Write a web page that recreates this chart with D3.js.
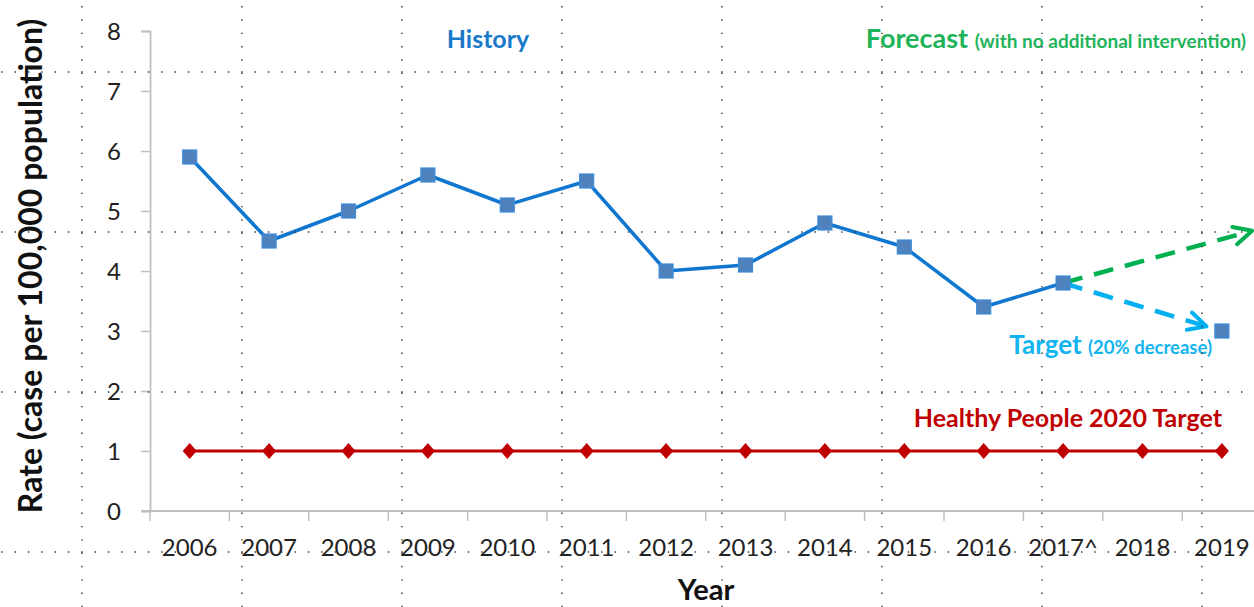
<!DOCTYPE html>
<html>
<head>
<meta charset="utf-8">
<script src="https://cdn.jsdelivr.net/npm/d3@7"></script>
<style>
  html, body { margin: 0; padding: 0; background: #fff; }
  svg { display: block; font-family: Lato, "Open Sans", sans-serif; }
</style>
</head>
<body>
<svg id="chart" width="1254" height="607"></svg>
<script>
// ---- data ----
const years = ["2006","2007","2008","2009","2010","2011","2012","2013","2014","2015","2016","2017^","2018","2019"];
const historyValues = [5.9, 4.5, 5.0, 5.6, 5.1, 5.5, 4.0, 4.1, 4.8, 4.4, 3.4, 3.8];
const hp2020Values = [1,1,1,1,1,1,1,1,1,1,1,1,1,1];
const targetPoint = { index: 13, value: 3.0 };
const forecastEnd = { index: 13.38, value: 4.67 };
const yTicks = [0,1,2,3,4,5,6,7,8];

// ---- layout ----
const svg = d3.select("#chart");
const W = 1254, H = 607;
const plotLeft = 150, step = 79.4, yBottom = 511, yTop = 31;

const x = d3.scaleLinear().domain([-0.5, years.length - 0.5]).range([plotLeft, plotLeft + step * years.length]);
const y = d3.scaleLinear().domain([0, 8]).range([yBottom, yTop]);

const axisColor = "#bfbfbf";

// y axis
const yAxis = svg.append("g").attr("transform", `translate(${plotLeft},0)`)
  .call(d3.axisLeft(y).tickValues(yTicks).tickSize(9).tickPadding(20).tickFormat(d3.format("d")));
yAxis.select(".domain").attr("stroke", axisColor).attr("stroke-width", 1.8);
yAxis.selectAll(".tick line").attr("stroke", axisColor).attr("stroke-width", 1.5);
yAxis.selectAll(".tick text").attr("font-size", 24).attr("fill", "#222").attr("font-family", "Lato, sans-serif").attr("dy", "0.36em");

// x axis: ticks at band boundaries, labels centered
const xAxisG = svg.append("g").attr("transform", `translate(0,${yBottom})`);
xAxisG.append("line").attr("x1", plotLeft - 9).attr("x2", W).attr("y1", 0).attr("y2", 0)
  .attr("stroke", axisColor).attr("stroke-width", 1.8);
xAxisG.selectAll("line.tk").data(d3.range(years.length + 1)).join("line").attr("class", "tk")
  .attr("x1", i => x(i - 0.5)).attr("x2", i => x(i - 0.5)).attr("y1", 0).attr("y2", 10)
  .attr("stroke", axisColor).attr("stroke-width", 1.5);
xAxisG.selectAll("text").data(years).join("text")
  .attr("x", (d, i) => x(i)).attr("y", 45).attr("text-anchor", "middle")
  .attr("font-size", 24).attr("fill", "#222").text(d => d);

// axis titles
svg.append("text").attr("transform", `translate(42,266) rotate(-90)`)
  .attr("text-anchor", "middle").attr("font-size", 32).attr("font-weight", "bold").attr("fill", "#111")
  .text("Rate (case  per 100,000 population)");
svg.append("text").attr("x", 706).attr("y", 600).attr("text-anchor", "middle")
  .attr("font-size", 29).attr("font-weight", "bold").attr("fill", "#111").text("Year");

// markers for arrows
const defs = svg.append("defs");
function arrowMarker(id, color) {
  defs.append("marker").attr("id", id).attr("viewBox", "0 0 24 24")
    .attr("refX", 20).attr("refY", 12).attr("markerWidth", 24).attr("markerHeight", 24)
    .attr("markerUnits", "userSpaceOnUse").attr("orient", "auto")
    .append("path").attr("d", "M2,3 L20,12 L2,21").attr("fill", "none")
    .attr("stroke", color).attr("stroke-width", 4).attr("stroke-linecap", "round").attr("stroke-linejoin", "round");
}
arrowMarker("arrGreen", "#00b050");
arrowMarker("arrCyan", "#00b0f0");

// Healthy People 2020 line
const hpLine = d3.line().x((d, i) => x(i)).y(d => y(d));
svg.append("path").datum(hp2020Values).attr("d", hpLine)
  .attr("fill", "none").attr("stroke", "#c00000").attr("stroke-width", 3);
svg.selectAll("path.dia").data(hp2020Values).join("path").attr("class", "dia")
  .attr("transform", (d, i) => `translate(${x(i)},${y(d)})`)
  .attr("d", "M0,-8 L7,0 L0,8 L-7,0 Z").attr("fill", "#c00000");

// forecast / target arrows
const lastIdx = historyValues.length - 1;
const sx = x(lastIdx), sy = y(historyValues[lastIdx]);
svg.append("line").attr("x1", sx).attr("y1", sy)
  .attr("x2", x(forecastEnd.index)).attr("y2", y(forecastEnd.value))
  .attr("stroke", "#00b050").attr("stroke-width", 4.5).attr("stroke-dasharray", "20,12")
  .attr("marker-end", "url(#arrGreen)");
{
  const tx = x(targetPoint.index), ty = y(targetPoint.value);
  const dx = tx - sx, dy = ty - sy, len = Math.hypot(dx, dy);
  const ex = tx - dx / len * 16, ey = ty - dy / len * 16;
  svg.append("line").attr("x1", sx).attr("y1", sy).attr("x2", ex).attr("y2", ey)
    .attr("stroke", "#00b0f0").attr("stroke-width", 4.5).attr("stroke-dasharray", "20,12")
    .attr("marker-end", "url(#arrCyan)");
}

// history line
const hLine = d3.line().x((d, i) => x(i)).y(d => y(d));
svg.append("path").datum(historyValues).attr("d", hLine)
  .attr("fill", "none").attr("stroke", "#0f77cf").attr("stroke-width", 3.5).attr("stroke-linejoin", "round");
const sq = 14;
svg.selectAll("rect.hsq").data(historyValues).join("rect").attr("class", "hsq")
  .attr("x", (d, i) => x(i) - sq / 2).attr("y", d => y(d) - sq / 2)
  .attr("width", sq).attr("height", sq)
  .attr("fill", "#4f81bd").attr("stroke", "#3d8ddb").attr("stroke-width", 1.2);
svg.append("rect").datum(targetPoint)
  .attr("x", d => x(d.index) - sq / 2).attr("y", d => y(d.value) - sq / 2)
  .attr("width", sq).attr("height", sq)
  .attr("fill", "#4f81bd").attr("stroke", "#3d8ddb").attr("stroke-width", 1.2);

// annotations
svg.append("text").attr("x", 488).attr("y", 48).attr("text-anchor", "middle")
  .attr("font-size", 25).attr("font-weight", "bold").attr("fill", "#1a7ac9").text("History");
const fc = svg.append("text").attr("x", 1246).attr("y", 48).attr("text-anchor", "end")
  .attr("font-weight", "bold").attr("fill", "#1fb35a");
fc.append("tspan").attr("font-size", 27).text("Forecast ");
fc.append("tspan").attr("font-size", 19).text("(with no additional intervention)");
const tg = svg.append("text").attr("x", 1212).attr("y", 354).attr("text-anchor", "end")
  .attr("font-weight", "bold").attr("fill", "#12b4ef");
tg.append("tspan").attr("font-size", 26).text("Target ");
tg.append("tspan").attr("font-size", 18.5).text("(20% decrease)");
svg.append("text").attr("x", 1222).attr("y", 427).attr("text-anchor", "end")
  .attr("font-size", 25).attr("font-weight", "bold").attr("fill", "#c00000").text("Healthy People 2020 Target");

// dotted background grid overlay
const gridX = d3.range(82, W, 160);
const gridY = d3.range(72, H, 160);
const dots = svg.append("g").attr("stroke", "#333").attr("stroke-width", 1.4).attr("stroke-dasharray", "1.4,11.93");
dots.selectAll("line.gv").data(gridX).join("line").attr("class", "gv")
  .attr("x1", d => d).attr("x2", d => d).attr("y1", 72 - 160 + 0.7).attr("y2", H);
dots.selectAll("line.gh").data(gridY).join("line").attr("class", "gh")
  .attr("y1", d => d).attr("y2", d => d).attr("x1", 82 - 160 - 0.7).attr("x2", W);
</script>
</body>
</html>
